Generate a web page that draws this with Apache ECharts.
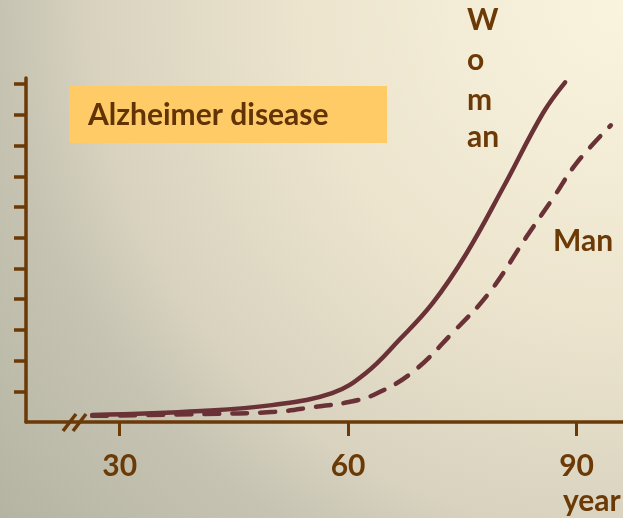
<!DOCTYPE html>
<html>
<head>
<meta charset="utf-8">
<script src="https://cdn.jsdelivr.net/npm/echarts@6/dist/echarts.min.js"></script>
<style>
  html, body { margin: 0; padding: 0; }
  #main { width: 623px; height: 518px; }
</style>
</head>
<body>
<div id="main"></div>
<script>
// values (age in years, relative risk)
const womanYears = [26.4, 40.7, 50.0, 57.9, 62.3, 66.7, 71.1, 75.5, 80.4, 85.6, 88.5];
const womanRisk  = [0.23, 0.36, 0.55, 0.94, 1.59, 2.67, 3.87, 5.47, 7.65, 10.06, 11.06];
const manYears = [26.4, 40.7, 50.4, 55.6, 60.1, 63.6, 68.5, 73.7, 78.6, 83.4, 87.0, 90.0, 94.5];
const manRisk  = [0.20, 0.26, 0.33, 0.49, 0.65, 0.91, 1.63, 2.90, 4.23, 6.02, 7.32, 8.43, 9.66];
const xTicks = [30, 60, 90];
const yTicks = [1, 2, 3, 4, 5, 6, 7, 8, 9, 10, 11];

const brown = '#6b3a06';
const textBrown = '#623307';
const lineColor = '#6a3236';
const font = 'bold 30px Lato, "Open Sans", sans-serif';

const pairs = (xs, ys) => xs.map((x, i) => [x, ys[i]]);

const chart = echarts.init(document.getElementById('main'));
chart.setOption({
  animation: false,
  backgroundColor: {
    type: 'radial', x: 1, y: 0, r: 1.56,
    colorStops: [
      { offset: 0, color: '#faf4df' },
      { offset: 0.4, color: '#ece4cd' },
      { offset: 0.66, color: '#d8d2bf' },
      { offset: 0.77, color: '#c6c3b2' },
      { offset: 1, color: '#b5b4a2' }
    ]
  },
  grid: { left: 26, right: 0, top: 78, bottom: 96 },
  xAxis: {
    type: 'value', min: 17.7, max: 96.1,
    axisLine: { lineStyle: { color: brown, width: 3.5 } },
    axisTick: { customValues: xTicks, length: 14, lineStyle: { color: brown, width: 3 } },
    axisLabel: {
      customValues: xTicks, margin: 29,
      color: brown, fontFamily: 'Lato', fontWeight: 'bold', fontSize: 30
    },
    splitLine: { show: false }
  },
  yAxis: {
    type: 'value', min: 0, max: 11.2,
    axisLine: { show: true, lineStyle: { color: brown, width: 3.5 } },
    axisTick: { show: true, customValues: yTicks, length: 12, lineStyle: { color: brown, width: 3.5 } },
    axisLabel: { show: false },
    splitLine: { show: false }
  },
  series: [
    {
      name: 'Woman', type: 'line', smooth: 0.4, showSymbol: false,
      data: pairs(womanYears, womanRisk),
      lineStyle: { color: lineColor, width: 4.5, cap: 'round' }
    },
    {
      name: 'Man', type: 'line', smooth: 0.4, showSymbol: false,
      data: pairs(manYears, manRisk),
      lineStyle: { color: lineColor, width: 4.5, type: [15, 13], cap: 'round' }
    }
  ],
  graphic: [
    // axis break marks
    { type: 'line', shape: { x1: 63, y1: 431, x2: 76, y2: 414 }, style: { stroke: brown, lineWidth: 3.5 } },
    { type: 'line', shape: { x1: 73, y1: 431, x2: 86, y2: 414 }, style: { stroke: brown, lineWidth: 3.5 } },
    // title box
    { type: 'rect', shape: { x: 69, y: 86, width: 318, height: 57 }, style: { fill: '#fecb66' } },
    { type: 'text', x: 88, y: 115, style: { text: 'Alzheimer disease', font: font, fill: textBrown, verticalAlign: 'middle' } },
    // series names
    { type: 'text', x: 467, y: 20, style: { text: 'W', font: font, fill: brown, verticalAlign: 'middle' } },
    { type: 'text', x: 467, y: 60, style: { text: 'o', font: font, fill: brown, verticalAlign: 'middle' } },
    { type: 'text', x: 467, y: 100, style: { text: 'm', font: font, fill: brown, verticalAlign: 'middle' } },
    { type: 'text', x: 467, y: 137, style: { text: 'an', font: font, fill: brown, verticalAlign: 'middle' } },
    { type: 'text', x: 553, y: 241, style: { text: 'Man', font: font, fill: brown, verticalAlign: 'middle' } },
    { type: 'text', x: 563, y: 501, style: { text: 'year', font: font, fill: brown, verticalAlign: 'middle' } }
  ]
});
</script>
</body>
</html>
